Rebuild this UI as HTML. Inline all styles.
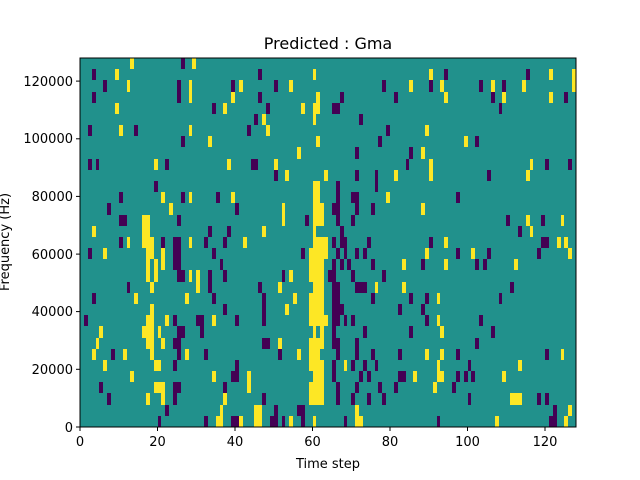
<!DOCTYPE html>
<html><head><meta charset="utf-8">
<style>
html,body{margin:0;padding:0;background:#fff;}
svg{display:block;font-family:"DejaVu Sans","Liberation Sans",sans-serif;}
</style></head>
<body>
<svg id="s" width="640" height="480" viewBox="0 0 640 480" xmlns="http://www.w3.org/2000/svg">
<rect x="0" y="0" width="640" height="480" fill="#fff"/>
<rect x="80" y="58" width="496" height="369" fill="#21918c"/>
<g id="cells" shape-rendering="crispEdges"></g>
<rect x="80" y="58" width="496" height="369" fill="none" stroke="#000" stroke-width="1"/>
<g stroke="#000" stroke-width="1">
<line x1="80" y1="427" x2="80" y2="431"/><line x1="157.5" y1="427" x2="157.5" y2="431"/>
<line x1="235" y1="427" x2="235" y2="431"/><line x1="312.5" y1="427" x2="312.5" y2="431"/>
<line x1="390" y1="427" x2="390" y2="431"/><line x1="467.5" y1="427" x2="467.5" y2="431"/>
<line x1="545" y1="427" x2="545" y2="431"/>
<line x1="76" y1="427" x2="80" y2="427"/><line x1="76" y1="369.3" x2="80" y2="369.3"/>
<line x1="76" y1="311.6" x2="80" y2="311.6"/><line x1="76" y1="254.1" x2="80" y2="254.1"/>
<line x1="76" y1="196.4" x2="80" y2="196.4"/><line x1="76" y1="138.8" x2="80" y2="138.8"/>
<line x1="76" y1="81.1" x2="80" y2="81.1"/>
</g>
<g font-size="13" fill="#000" text-anchor="middle">
<text x="80" y="446">0</text><text x="157.5" y="446">20</text><text x="235" y="446">40</text>
<text x="312.5" y="446">60</text><text x="390" y="446">80</text><text x="467.5" y="446">100</text>
<text x="545" y="446">120</text>
</g>
<g font-size="13" fill="#000" text-anchor="end">
<text x="73" y="432">0</text><text x="73" y="374">20000</text><text x="73" y="316">40000</text>
<text x="73" y="259">60000</text><text x="73" y="201">80000</text><text x="73" y="143">100000</text>
<text x="73" y="86">120000</text>
</g>
<text x="328" y="468" font-size="13" text-anchor="middle">Time step</text>
<text transform="translate(9,242) rotate(-90)" font-size="13" text-anchor="middle">Frequency (Hz)</text>
<text x="328" y="49" font-size="16" text-anchor="middle">Predicted : Gma</text>
</svg>
<script>
var rows=[
"Y13 P26 Y29",
"P3 Y9 P46 Y60 Y90 P94 P115 Y121 Y127",
"P6 Y12 P25 Y28 P39 Y41 P50 Y54 P78 Y85 P90 Y93 P103 Y106 P109 Y114 Y127",
"P3 P25 Y28 Y39 P46 Y61 P67 P81 Y94 P106 Y109 Y121 P125",
"Y9 P34 Y37 P48 Y57 Y60-61 P65-66 P108",
"P45 Y47 Y60 P72",
"P2 Y10 P14 Y28 P43 Y48 P79 Y89",
"P26 Y33 Y61 P77 Y99 P102",
"Y56 P71 P85 Y88",
"P2 P4 Y19 P22 Y38 P44-45 Y50 P84 Y90 Y116 P120 P126",
"P50 Y53 Y63 P71 P76 Y81 Y90 P105 Y115",
"P19 Y60-61 P66 P76",
"P10 Y21 P26 Y28 P35 Y39 Y60-61 P66 P70-71 Y79 P97",
"P7 Y23 P40 Y52 Y60-62 P65-66 P71 P75 Y88",
"P10-11 Y16-17 P25 Y52 P58 Y60-62 P66 P70 P110 Y115 P119 Y124",
"Y3 Y16-17 P33 P38 Y47 Y60 P67 P113 Y116",
"P10 Y12 Y16-18 P21 P24-25 Y28 P32 P37 Y42 Y60-63 P65 P67-68 P74 P90 Y94 P119-120 Y123 Y125",
"P2 Y6 Y17-18 Y21 P24-25 P34 P57 Y59-63 P66 P68 P71 P73 Y89 P97 Y101 P105 P118 Y126",
"Y17 Y19 Y21 P24-25 P36 Y59-62 P65 P67 P69 P75 Y83 P88 Y94 P102 P104 Y112",
"Y17 Y19 P25-26 Y28 Y30 P33 P37 P52 Y54 Y59-62 P64-65 P70 P78",
"P12 Y18 Y30 P33 P46 Y51 Y60-62 P65-66 P71-73 Y76 Y83 P111",
"P3 Y14 Y27 P34 P47 Y55 Y59-62 P65-66 P75 P85 P89 Y92 P108",
"Y18 P37 P47 Y53 Y59-62 P65-67 P82 P88",
"P1 Y17-18 Y22 P24 P30-31 Y34 P40 P47 Y59-63 P65-66 P68 P70 P89 Y92 P103",
"Y5 Y16-18 Y20 P25-26 P31 Y60 Y62 P65 P73 P85 Y93 P106",
"Y4 Y17-18 Y21 P24-25 P47-48 Y51 Y59-62 P65-66 P71 P102",
"Y3 P8 Y11 Y18 P25 Y27 P32 P51 Y56 Y59-61 P66 P71 P75 P82 Y89 Y93 P97 P120 Y124",
"Y6 Y19-20 P24 P40 Y59-62 P65 Y68 P70 P73 P76 Y92 P100 Y113",
"Y13 Y34 P39-40 Y43 Y60-62 P65 P72 P74 P82-83 Y86 Y92-93 P97 P99 P101 Y109",
"P5 Y19-21 P24-25 P37 Y43 Y59-62 P66 P71 P77 P81 Y91 P96",
"P7 Y17 Y21 P24 Y37 P47 Y59-62 P66 P70 P74 P78 P100 Y111-113 P118 P120",
"P22 Y36 Y45-46 P50 P56-57 Y71 P122 Y126",
"P20 P32 Y35-36 P39-40 Y41 Y45-46 P49-50 P52 Y54 P57 Y60 P68 Y71-72 P92 Y107 P121-122 Y125"
];
var g=document.getElementById("cells"),ns="http://www.w3.org/2000/svg",cw=496/128,rh=369/33,h="";
for(var r=0;r<rows.length;r++){rows[r].split(" ").forEach(function(t){
var col=t[0]=="Y"?"#fde725":"#440154";var p=t.slice(1).split("-");var a=+p[0],b=p.length>1?+p[1]:a;
var x0=Math.round(80+a*cw),x1=Math.round(80+(b+1)*cw),y0=Math.round(58+r*rh),y1=Math.round(58+(r+1)*rh);
h+='<rect x="'+x0+'" y="'+y0+'" width="'+(x1-x0)+'" height="'+(y1-y0)+'" fill="'+col+'"/>';});}
g.innerHTML=h;
</script>
</body></html>
